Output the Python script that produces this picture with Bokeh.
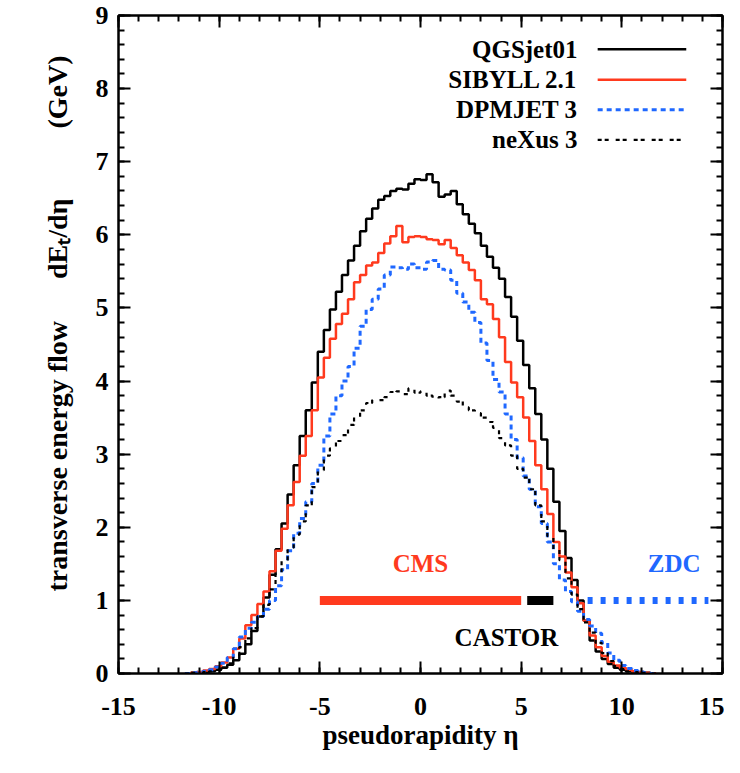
import numpy as np
from bokeh.plotting import figure
from bokeh.models import LinearAxis, Range1d, SingleIntervalTicker, CustomJSTickFormatter
from bokeh.embed import file_html
from bokeh.resources import INLINE
from bokeh.core.properties import value

# ---------------- data ----------------
BIN_LO = -11.7      # left edge of first bin
BIN_WIDTH = 0.3     # histogram bin width in eta

QGSJET = [0.0, 0.01, 0.01, 0.02, 0.03, 0.05, 0.08, 0.12, 0.18, 0.27,
          0.40, 0.58, 0.78, 1.04, 1.35, 1.70, 2.05, 2.45, 2.85, 3.25,
          3.60, 3.98, 4.40, 4.70, 4.98, 5.22, 5.45, 5.65, 5.85, 6.05,
          6.22, 6.36, 6.48, 6.53, 6.60, 6.63, 6.62, 6.70, 6.76, 6.75,
          6.83, 6.72, 6.52, 6.55, 6.60, 6.42, 6.28, 6.15, 6.02, 5.85,
          5.70, 5.55, 5.40, 5.15, 4.88, 4.55, 4.22, 3.90, 3.55, 3.20,
          2.80, 2.35, 1.95, 1.58, 1.28, 1.00, 0.72, 0.45, 0.30, 0.20,
          0.13, 0.08, 0.05, 0.03, 0.02, 0.01, 0.01, 0.0]

SIBYLL = [0.0, 0.01, 0.02, 0.04, 0.06, 0.10, 0.15, 0.22, 0.34, 0.48,
          0.66, 0.80, 0.95, 1.12, 1.40, 1.68, 1.98, 2.30, 2.62, 2.98,
          3.25, 3.60, 4.05, 4.32, 4.58, 4.78, 4.92, 5.12, 5.35, 5.45,
          5.58, 5.62, 5.75, 5.88, 5.98, 6.12, 5.90, 5.97, 5.98, 5.97,
          5.94, 5.93, 5.87, 5.93, 5.82, 5.72, 5.62, 5.52, 5.38, 5.12,
          5.05, 4.85, 4.60, 4.26, 3.98, 3.78, 3.50, 3.18, 2.85, 2.52,
          2.18, 1.80, 1.60, 1.38, 1.18, 0.96, 0.72, 0.52, 0.36, 0.24,
          0.16, 0.11, 0.08, 0.05, 0.03, 0.02, 0.01, 0.0]

DPMJET = [0.0, 0.01, 0.02, 0.03, 0.05, 0.09, 0.14, 0.22, 0.34, 0.50,
          0.62, 0.70, 0.78, 0.88, 1.00, 1.20, 1.42, 1.68, 1.92, 2.12,
          2.35, 2.60, 2.85, 3.25, 3.55, 3.80, 4.00, 4.20, 4.45, 4.75,
          4.98, 5.12, 5.26, 5.45, 5.56, 5.55, 5.53, 5.60, 5.55, 5.53,
          5.63, 5.65, 5.53, 5.52, 5.38, 5.20, 5.08, 4.94, 4.80, 4.52,
          4.28, 4.02, 3.85, 3.55, 3.20, 2.95, 2.70, 2.52, 2.28, 2.05,
          1.80, 1.50, 1.28, 1.12, 0.98, 0.85, 0.74, 0.65, 0.55, 0.42,
          0.28, 0.18, 0.11, 0.07, 0.04, 0.02, 0.01, 0.0]

NEXUS = [0.0, 0.01, 0.01, 0.02, 0.03, 0.05, 0.08, 0.14, 0.24, 0.36,
         0.48, 0.62, 0.78, 0.94, 1.15, 1.36, 1.55, 1.72, 1.90, 2.08,
         2.30, 2.55, 2.78, 2.98, 3.08, 3.18, 3.26, 3.40, 3.50, 3.60,
         3.70, 3.74, 3.74, 3.78, 3.85, 3.86, 3.82, 3.90, 3.84, 3.86,
         3.80, 3.76, 3.78, 3.87, 3.80, 3.72, 3.64, 3.60, 3.56, 3.50,
         3.44, 3.36, 3.22, 3.12, 2.98, 2.80, 2.68, 2.52, 2.30, 2.08,
         1.88, 1.70, 1.55, 1.30, 1.08, 0.88, 0.70, 0.56, 0.42, 0.28,
         0.17, 0.10, 0.06, 0.03, 0.02, 0.01, 0.01, 0.0]

SERIES_NAMES = ["QGSjet01", "SIBYLL 2.1", "DPMJET 3", "neXus 3"]
SERIES_VALUES = [QGSJET, SIBYLL, DPMJET, NEXUS]

# detector acceptances (eta ranges) drawn at dE/deta = 1
DET_NAMES = ["CMS", "CASTOR", "ZDC"]
DET_ETA_LO = [-5.0, 5.3, 8.3]
DET_ETA_HI = [5.0, 6.6, 14.3]
DET_LEVEL = 1.0

X_TICKS = [-15, -10, -5, 0, 5, 10, 15]
Y_TICKS = [0, 1, 2, 3, 4, 5, 6, 7, 8, 9]

# ---------------- styles ----------------
FONT = "Liberation Serif"
RED = "#ff3a1e"
BLUE = "#1f68ff"
STYLES = [
    dict(line_color="black", line_width=2.5, line_dash="solid"),
    dict(line_color=RED, line_width=2.5, line_dash="solid"),
    dict(line_color=BLUE, line_width=3, line_dash="5 4"),
    dict(line_color="black", line_width=2.2, line_dash="4 3 4 7"),
]

p = figure(width=724, height=757, output_backend="svg", toolbar_location=None,
           x_range=Range1d(-15, 15), y_range=Range1d(0, 9),
           min_border_left=118, min_border_right=2,
           min_border_top=15, min_border_bottom=84)
p.grid.visible = False
p.outline_line_color = "black"
p.outline_line_width = 2
p.background_fill_color = "white"
p.border_fill_color = "white"


def style_axis(ax):
    ax.axis_line_width = 2
    ax.major_tick_in = 12
    ax.major_tick_out = 0
    ax.minor_tick_in = 6
    ax.minor_tick_out = 0
    ax.major_tick_line_width = 2
    ax.minor_tick_line_width = 2
    ax.major_label_text_font = FONT
    ax.major_label_text_font_style = "bold"
    ax.major_label_text_font_size = "26px"
    ax.major_label_text_color = "black"
    ax.axis_label_text_font = FONT
    ax.axis_label_text_font_style = "bold"
    ax.axis_label_text_color = "black"


xax, yax = p.xaxis[0], p.yaxis[0]
style_axis(xax)
style_axis(yax)
xax.ticker = SingleIntervalTicker(interval=5, num_minor_ticks=5)
yax.ticker = SingleIntervalTicker(interval=1, num_minor_ticks=5)
xax.major_label_overrides = {t: str(t) for t in X_TICKS}   # plain hyphen minus
yax.major_label_overrides = {t: str(t) for t in Y_TICKS}
xax.major_label_standoff = 24
yax.major_label_standoff = 10
xax.axis_label = "pseudorapidity η"
xax.axis_label_text_font_size = "27px"
xax.axis_label_standoff = 2
yax.axis_label = ("\u2003\u2002transverse energy flow\u2003\u2002"
                  "dE\u209c/dη\u2003\u2003\u2002(GeV)")
yax.axis_label_text_font_size = "28px"
yax.axis_label_standoff = 20

# mirrored tick marks on top and right (no labels)
top_ax = LinearAxis(ticker=SingleIntervalTicker(interval=5, num_minor_ticks=5),
                    formatter=CustomJSTickFormatter(code="return ''"))
right_ax = LinearAxis(ticker=SingleIntervalTicker(interval=1, num_minor_ticks=5),
                      formatter=CustomJSTickFormatter(code="return ''"))
for ax in (top_ax, right_ax):
    style_axis(ax)
    ax.major_label_standoff = 0
p.add_layout(top_ax, "above")
p.add_layout(right_ax, "right")

# ---------------- histograms ----------------
edges = BIN_LO + BIN_WIDTH * np.arange(len(QGSJET) + 1)
for vals, st in zip(SERIES_VALUES, STYLES):
    yv = np.append(np.asarray(vals, dtype=float), vals[-1])
    p.step(edges, yv, mode="after", **st)

# ---------------- detector bars ----------------
p.segment(x0=[DET_ETA_LO[0]], y0=[DET_LEVEL], x1=[DET_ETA_HI[0]], y1=[DET_LEVEL],
          line_color=RED, line_width=9, line_cap="butt")
p.segment(x0=[DET_ETA_LO[1]], y0=[DET_LEVEL], x1=[DET_ETA_HI[1]], y1=[DET_LEVEL],
          line_color="black", line_width=9, line_cap="butt")
p.segment(x0=[DET_ETA_LO[2]], y0=[DET_LEVEL], x1=[DET_ETA_HI[2]], y1=[DET_LEVEL],
          line_color=BLUE, line_width=7, line_dash="5 8", line_cap="butt")

TEXT_KW = dict(text_font=value(FONT), text_font_style="bold", text_font_size="25px",
               text_align="center", text_baseline="middle")
p.text(x=[0.0], y=[1.51], text=[DET_NAMES[0]], text_color=RED, **TEXT_KW)
p.text(x=[4.27], y=[0.49], text=[DET_NAMES[1]], text_color="black", **TEXT_KW)
p.text(x=[12.6], y=[1.51], text=[DET_NAMES[2]], text_color=BLUE, **TEXT_KW)

# ---------------- legend (text left of sample, gnuplot style) ----------------
LEG_ROWS = [8.54, 8.12, 7.71, 7.30]
LEG_TEXT_X = 7.8
LEG_LINE_X0, LEG_LINE_X1 = 8.8, 13.2
leg_kw = dict(TEXT_KW)
leg_kw["text_align"] = "right"
p.text(x=[LEG_TEXT_X] * 4, y=LEG_ROWS, text=SERIES_NAMES, text_color="black", **leg_kw)
for row, st in zip(LEG_ROWS, STYLES):
    p.segment(x0=[LEG_LINE_X0], y0=[row], x1=[LEG_LINE_X1], y1=[row], **st)

open("out.html", "w").write(file_html(p, INLINE))
